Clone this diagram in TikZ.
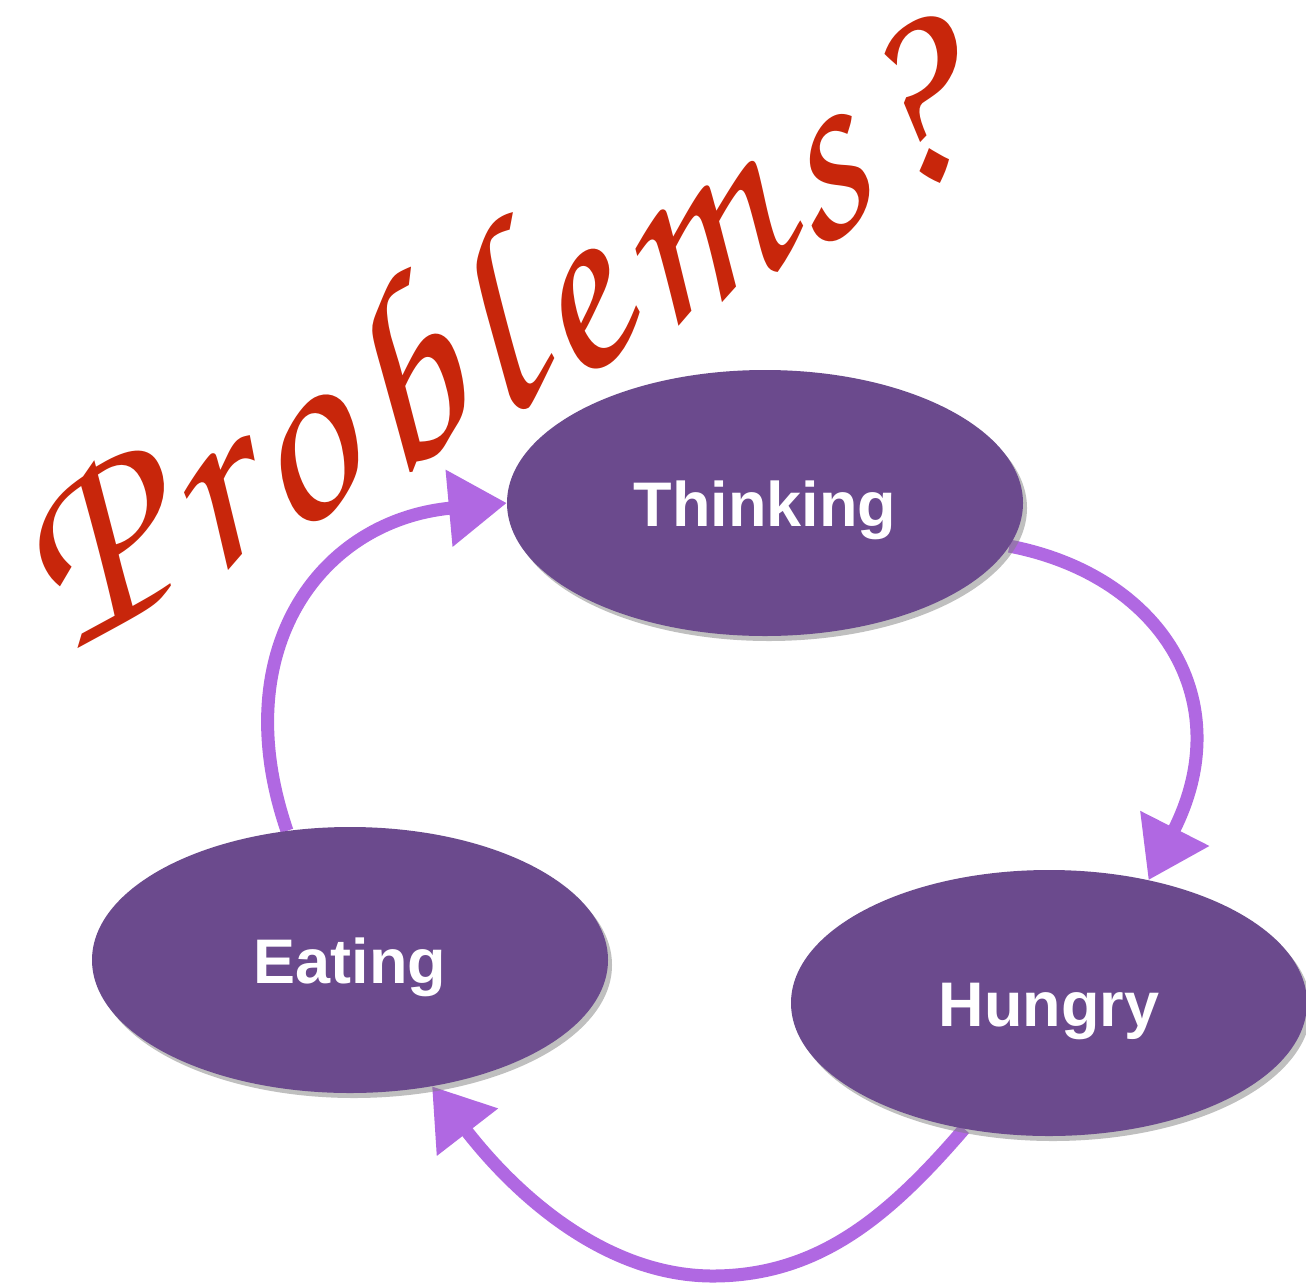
\documentclass[tikz,border=0pt]{standalone}
\usepackage{fontspec}
\setmainfont{Liberation Sans}
\newfontfamily\chancery[LetterSpace=5.5]{texgyrechorus-mediumitalic.otf}
\usetikzlibrary{arrows.meta,shapes.geometric,shadows,backgrounds}
\definecolor{plum}{HTML}{6B4A8D}
\definecolor{lilac}{HTML}{B068E2}
\definecolor{brick}{HTML}{C8260B}
\tikzset{
  state/.style={ellipse, fill=plum, draw=none, minimum width=516pt,
    minimum height=266pt, inner sep=0pt, text=white,
    text height=60pt, text depth=13pt,
    font=\fontsize{63}{70}\selectfont\bfseries,
    drop shadow={opacity=0.5, shadow xshift=4pt, shadow yshift=-5pt}},
  flow/.style={draw=lilac, line width=13pt,
    -{Triangle[length=58pt,width=74pt]}},
  heading/.style={text=brick, font=\chancery\fontsize{262}{270}\selectfont, inner sep=0pt}
}
\begin{document}
\begin{tikzpicture}[x=1pt,y=-1pt]
  \useasboundingbox (0,0) rectangle (1306,1282);

  % the three states
  \node[state] (think) at (765,503) {Thinking};
  \node[state] (eat)   at (350,960) {Eating};
  \node[state] (hung)  at (1049,1003) {Hungry};

  % caption across the top left
  \node[heading, anchor=base, rotate=28.5] (title) at (528,405) {Problems?};

  % cycle of transitions, behind the states
  \begin{scope}[on background layer]
    \fill[white] (0,0) rectangle (1306,1282);
    \draw[flow] (think.-10.4) .. controls (1160,575) and (1240,700) .. (hung.51.7);
    \draw[flow] (hung.-124) .. controls (890,1215) and (820,1275) .. (715,1276)
                           .. controls (610,1277) and (520,1200) .. (eat.-57);
    \draw[flow] (eat.116) .. controls (225,650) and (320,520) .. (think.west);
  \end{scope}
\end{tikzpicture}
\end{document}
